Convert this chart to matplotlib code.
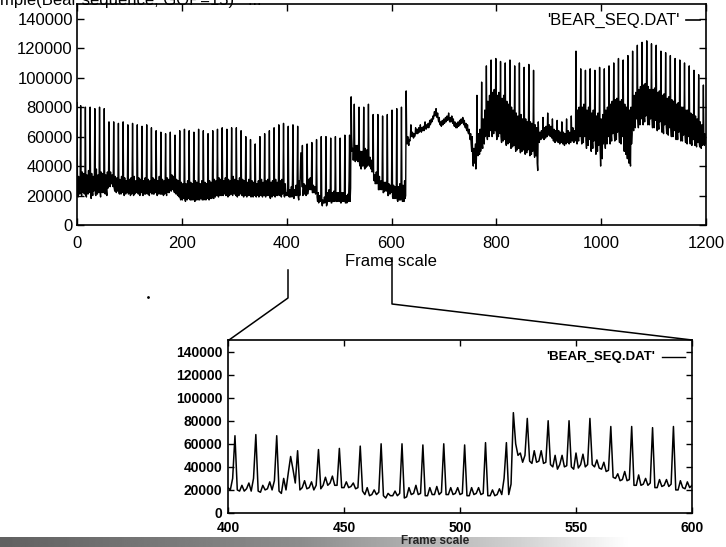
import numpy as np
import matplotlib
matplotlib.use("Agg")
import matplotlib.pyplot as plt
from matplotlib.lines import Line2D

plt.rcParams['font.family'] = ['Liberation Sans', 'DejaVu Sans']

# ---------------- data (frame sizes in thousands of bits) -------------
size_0_195 = [
    83, 22, 19, 33, 24, 21, 30,
    81, 21, 20, 36, 23, 22, 35, 21, 24,
    80, 20, 19, 34, 25, 21, 37, 22, 23,
    80, 22, 18, 35, 24, 20, 33, 23, 25,
    79, 21, 20, 38, 22, 21, 34, 24, 22,
    80, 23, 19, 36, 25, 22, 35, 22, 24,
    79, 22, 21, 34, 23, 20, 36, 25, 27,
    70, 28, 26, 36, 29, 28, 34, 27, 26,
    70, 25, 23, 33, 24, 22, 32, 23, 24,
    69, 22, 21, 31, 23, 21, 33, 22, 23,
    70, 23, 20, 32, 22, 21, 30, 22, 24,
    68, 21, 22, 31, 23, 20, 32, 21, 23,
    69, 22, 20, 33, 21, 22, 30, 23, 22,
    68, 23, 21, 32, 22, 20, 31, 22, 24,
    67, 21, 20, 30, 23, 21, 32, 21, 22,
    68, 22, 21, 31, 22, 20, 30, 22, 23,
    66, 21, 22, 32, 21, 21, 31, 23, 22,
    64, 22, 20, 30, 23, 21, 33, 22, 21,
    63, 21, 21, 31, 22, 20, 30, 21, 23,
    62, 22, 20, 32, 23, 22, 31, 22, 24,
    63, 24, 23, 34, 25, 24, 33, 23, 22,
    61, 22, 21, 31, 22, 20, 30, 21, 19,
]
size_196_402 = [
    64, 18, 17, 29, 19, 17, 28, 18, 19,
    65, 17, 16, 28, 18, 17, 30, 19, 18,
    64, 18, 17, 29, 17, 18, 28, 17, 19,
    63, 17, 16, 30, 18, 17, 29, 18, 17,
    65, 18, 17, 28, 19, 18, 30, 17, 18,
    64, 17, 18, 29, 18, 17, 28, 19, 18,
    62, 18, 17, 30, 19, 18, 29, 18, 19,
    64, 19, 18, 31, 20, 19, 30, 20, 21,
    65, 20, 19, 32, 21, 20, 31, 21, 20,
    66, 21, 20, 30, 22, 21, 32, 20, 22,
    65, 20, 19, 31, 21, 20, 30, 21, 21,
    66, 21, 20, 33, 22, 21, 31, 22, 20,
    66, 20, 19, 30, 21, 20, 32, 21, 22,
    64, 21, 20, 31, 20, 19, 30, 20, 21,
    60, 20, 19, 29, 21, 20, 31, 21, 20,
    58, 19, 20, 30, 20, 19, 29, 20, 21,
    55, 20, 19, 28, 21, 20, 30, 19, 20,
    60, 21, 20, 31, 20, 19, 29, 21, 20,
    62, 20, 19, 30, 21, 20, 31, 20, 21,
    64, 19, 18, 29, 20, 19, 30, 21, 20,
    66, 20, 19, 31, 21, 20, 29, 20, 21,
    68, 21, 20, 30, 20, 19, 31, 21, 22,
    69, 20, 19, 28, 21, 20, 22, 20, 30,
]
size_403_600 = [
    67, 20, 19, 24, 19, 21, 26, 19, 30,
    68, 19, 18, 24, 20, 21, 27, 20, 28,
    67, 19, 17, 30, 20, 35, 49, 38, 26,
    54, 20, 22, 28, 21, 22, 27, 20, 24,
    55, 21, 24, 31, 24, 26, 32, 24, 24,
    56, 22, 22, 27, 22, 23, 26, 21, 22,
    58, 19, 16, 22, 15, 16, 20, 16, 18,
    60, 15, 13, 17, 15, 15, 19, 15, 17,
    60, 13, 14, 22, 16, 17, 24, 16, 17,
    59, 15, 15, 22, 16, 16, 23, 16, 18,
    60, 16, 16, 22, 16, 17, 22, 16, 17,
    59, 15, 15, 22, 16, 17, 22, 16, 17,
    61, 15, 15, 20, 15, 16, 21, 16, 30,
    61, 16, 25, 87, 60, 50, 52, 44, 50,
    82, 45, 43, 54, 44, 45, 54, 43, 44,
    80, 42, 40, 50, 38, 42, 50, 40, 41,
    80, 40, 38, 52, 39, 42, 51, 40, 42,
    82, 42, 40, 46, 39, 38, 44, 36, 37,
    75, 31, 30, 34, 28, 29, 36, 28, 29,
    75, 24, 24, 33, 24, 25, 30, 24, 26,
    74, 22, 22, 29, 23, 24, 29, 23, 25,
    75, 20, 20, 28, 22, 21, 27, 22, 24,
]
size_601_759 = [
    78, 19, 18, 27, 19, 18, 26, 18, 20,
    79, 17, 16, 26, 18, 17, 28, 17, 19,
    80, 18, 16, 27, 17, 16, 30, 18, 20,
    91, 58, 55, 60, 56, 54, 58, 57, 60,
    68, 62, 60, 63, 61, 59, 62, 60, 61,
    66, 62, 63, 65, 62, 64, 66, 63, 64,
    68, 65, 63, 66, 64, 65, 67, 64, 66,
    70, 66, 65, 68, 66, 67, 69, 66, 68,
    71, 68, 69, 72, 70, 71, 74, 72, 75,
    77, 74, 76, 79, 75, 73, 76, 72, 70,
    73, 69, 68, 70, 67, 68, 71, 68, 69,
    72, 69, 70, 73, 70, 71, 74, 71, 72,
    76, 72, 70, 73, 70, 71, 74, 70, 69,
    72, 68, 67, 70, 67, 66, 69, 66, 67,
    70, 67, 68, 71, 68, 69, 72, 69, 70,
    73, 70, 68, 71, 67, 66, 69, 65, 64,
    68, 63, 62, 65, 61, 58, 62, 55, 50,
    60, 45, 40, 52, 42, 48,
]
size_760_951 = [
    55, 38, 45,
    88, 50, 47, 62, 52, 48, 65, 50, 53,
    97, 55, 52, 72, 58, 55, 78, 60, 62,
    108, 62, 58, 84, 65, 60, 88, 64, 66,
    112, 65, 60, 90, 68, 62, 92, 66, 64,
    113, 63, 58, 88, 66, 60, 90, 64, 62,
    111, 60, 56, 86, 62, 57, 88, 60, 58,
    110, 58, 54, 84, 60, 55, 82, 57, 56,
    112, 57, 52, 80, 58, 53, 78, 55, 54,
    108, 55, 50, 76, 56, 51, 74, 53, 52,
    110, 54, 49, 75, 55, 50, 72, 52, 51,
    107, 53, 48, 72, 54, 49, 70, 51, 52,
    109, 52, 47, 70, 53, 48, 69, 50, 51,
    105, 50, 46, 68, 52, 47, 66, 42, 37,
    70, 58, 56, 63, 60, 58, 64, 61, 59,
    73, 60, 58, 66, 61, 59, 67, 62, 60,
    76, 63, 61, 68, 62, 60, 67, 61, 59,
    72, 60, 57, 65, 59, 56, 64, 58, 57,
    71, 58, 56, 64, 58, 55, 63, 57, 56,
    70, 57, 55, 63, 56, 54, 62, 56, 55,
    72, 58, 56, 64, 57, 55, 63, 57, 56,
    74, 59, 57, 66, 58, 56, 64, 57, 58,
]
size_952_1059 = [
    118, 60, 55, 78, 62, 57, 80, 60, 62,
    106, 60, 55, 80, 62, 56, 82, 60, 61,
    105, 58, 52, 78, 60, 54, 80, 58, 59,
    106, 56, 50, 76, 58, 52, 78, 57, 58,
    105, 55, 48, 74, 56, 50, 76, 54, 55,
    107, 52, 40, 72, 50, 45, 75, 55, 58,
    106, 58, 52, 78, 60, 55, 80, 60, 62,
    108, 60, 55, 82, 62, 57, 84, 62, 63,
    110, 62, 57, 85, 64, 58, 86, 63, 64,
    113, 63, 56, 84, 62, 55, 85, 60, 61,
    112, 60, 50, 82, 58, 48, 80, 52, 45,
    115, 50, 42, 78, 45, 40, 80, 55, 62,
]
size_1060_1200 = [
    118, 68, 64, 88, 70, 66, 90, 72, 74,
    122, 72, 66, 92, 74, 68, 94, 72, 74,
    124, 74, 68, 95, 76, 70, 96, 74, 76,
    125, 75, 68, 94, 74, 68, 92, 72, 73,
    123, 72, 66, 92, 72, 66, 93, 71, 72,
    122, 70, 64, 90, 70, 65, 91, 70, 71,
    118, 69, 63, 88, 68, 62, 89, 68, 70,
    117, 68, 62, 86, 67, 61, 87, 66, 68,
    115, 66, 60, 85, 66, 60, 84, 64, 66,
    113, 65, 58, 82, 64, 58, 83, 63, 64,
    112, 63, 57, 80, 62, 57, 80, 61, 62,
    110, 61, 56, 78, 60, 55, 78, 60, 61,
    108, 60, 55, 76, 59, 54, 75, 58, 59,
    105, 58, 54, 74, 57, 53, 72, 56, 57,
    102, 56, 53, 70, 55, 52, 68, 54, 55,
    95, 55, 54, 62, 56, 55,
]

x_ticks_main = [0, 200, 400, 600, 800, 1000, 1200]
x_ticks_zoom = [400, 450, 500, 550, 600]
y_ticks = [0, 20000, 40000, 60000, 80000, 100000, 120000, 140000]
legend_label = "'BEAR_SEQ.DAT'"
x_label = "Frame scale"
title_fragment = "mple(Bear sequence, GOP=15)   ..."
zoom_start, zoom_end = 400, 600

sizes = np.concatenate([size_0_195, size_196_402, size_403_600, size_601_759,
                        size_760_951, size_952_1059, size_1060_1200]).astype(float) * 1000.0
frames = np.arange(len(sizes))

# ---------------- figure ----------------
W, H = 726, 547
fig = plt.figure(figsize=(W / 100, H / 100), dpi=100)


def fx(px):
    return px / W


def fy(py):
    return 1 - py / H


# main axes
ax = fig.add_axes([fx(77), fy(225), (706 - 77) / W, (225 - 4) / H])
ax.plot(frames, sizes, color='black', lw=1.0)
ax.set_xlim(0, 1200)
ax.set_ylim(0, 150000)
ax.set_xticks(x_ticks_main)
ax.set_yticks(y_ticks)
ax.tick_params(direction='in', top=True, right=True, length=5, width=1.0, labelsize=12)
ax.tick_params(axis='x', pad=8)
ax.tick_params(axis='y', pad=3)
for s in ax.spines.values():
    s.set_linewidth(1.2)
ax.text(0.958, 0.927, legend_label, transform=ax.transAxes, ha='right', va='center', fontsize=12)
ax.plot([0.968, 0.990], [0.927, 0.927], transform=ax.transAxes, color='black', lw=1.2)

fig.text(fx(391), fy(262), x_label, ha='center', va='center', fontsize=12)

# inset axes
ax2 = fig.add_axes([fx(228), fy(513), 464 / W, 173 / H])
sel = (frames >= zoom_start) & (frames <= zoom_end)
ax2.plot(frames[sel], sizes[sel], color='black', lw=1.1)
ax2.set_xlim(zoom_start, zoom_end)
ax2.set_ylim(0, 150000)
ax2.set_xticks(x_ticks_zoom)
ax2.set_yticks(y_ticks)
ax2.tick_params(direction='in', top=True, right=True, length=4, width=1.0, labelsize=10)
ax2.tick_params(axis='x', pad=6)
ax2.tick_params(axis='y', pad=4)
for lab in ax2.get_xticklabels() + ax2.get_yticklabels():
    lab.set_fontweight('bold')
for s in ax2.spines.values():
    s.set_linewidth(1.2)
ax2.text(0.920, 0.902, legend_label, transform=ax2.transAxes, ha='right', va='center',
         fontsize=9.5, fontweight='bold')
ax2.plot([0.935, 0.985], [0.902, 0.902], transform=ax2.transAxes, color='black', lw=1.0)

# connector lines
fig.add_artist(Line2D([fx(288), fx(288), fx(229)], [fy(270), fy(298), fy(340)],
                      transform=fig.transFigure, color='black', lw=1.1))
fig.add_artist(Line2D([fx(392), fx(392), fx(692)], [fy(258), fy(304), fy(340)],
                      transform=fig.transFigure, color='black', lw=1.1))
fig.add_artist(Line2D([fx(148)], [fy(297)], marker='.', ms=2, color='black',
                      transform=fig.transFigure))

# cut-off title at the very top (cropped in the reference as well)
fig.text(0, fy(5), title_fragment, ha='left', va='baseline', fontsize=12)

# halftone-like grey band at the bottom with the inset x label
band = fig.add_axes([0, 0, 630 / W, 10 / H])
grad = np.interp(np.linspace(0, 630, 400), [0, 300, 520, 630], [0.38, 0.55, 0.82, 1.0])
band.imshow(grad[None, :], cmap='gray', vmin=0, vmax=1, aspect='auto')
band.set_axis_off()
fig.text(fx(435), fy(541), x_label, ha='center', va='center', fontsize=8.5,
         fontweight='bold', color='0.15')

fig.savefig('out.png', dpi=100)
